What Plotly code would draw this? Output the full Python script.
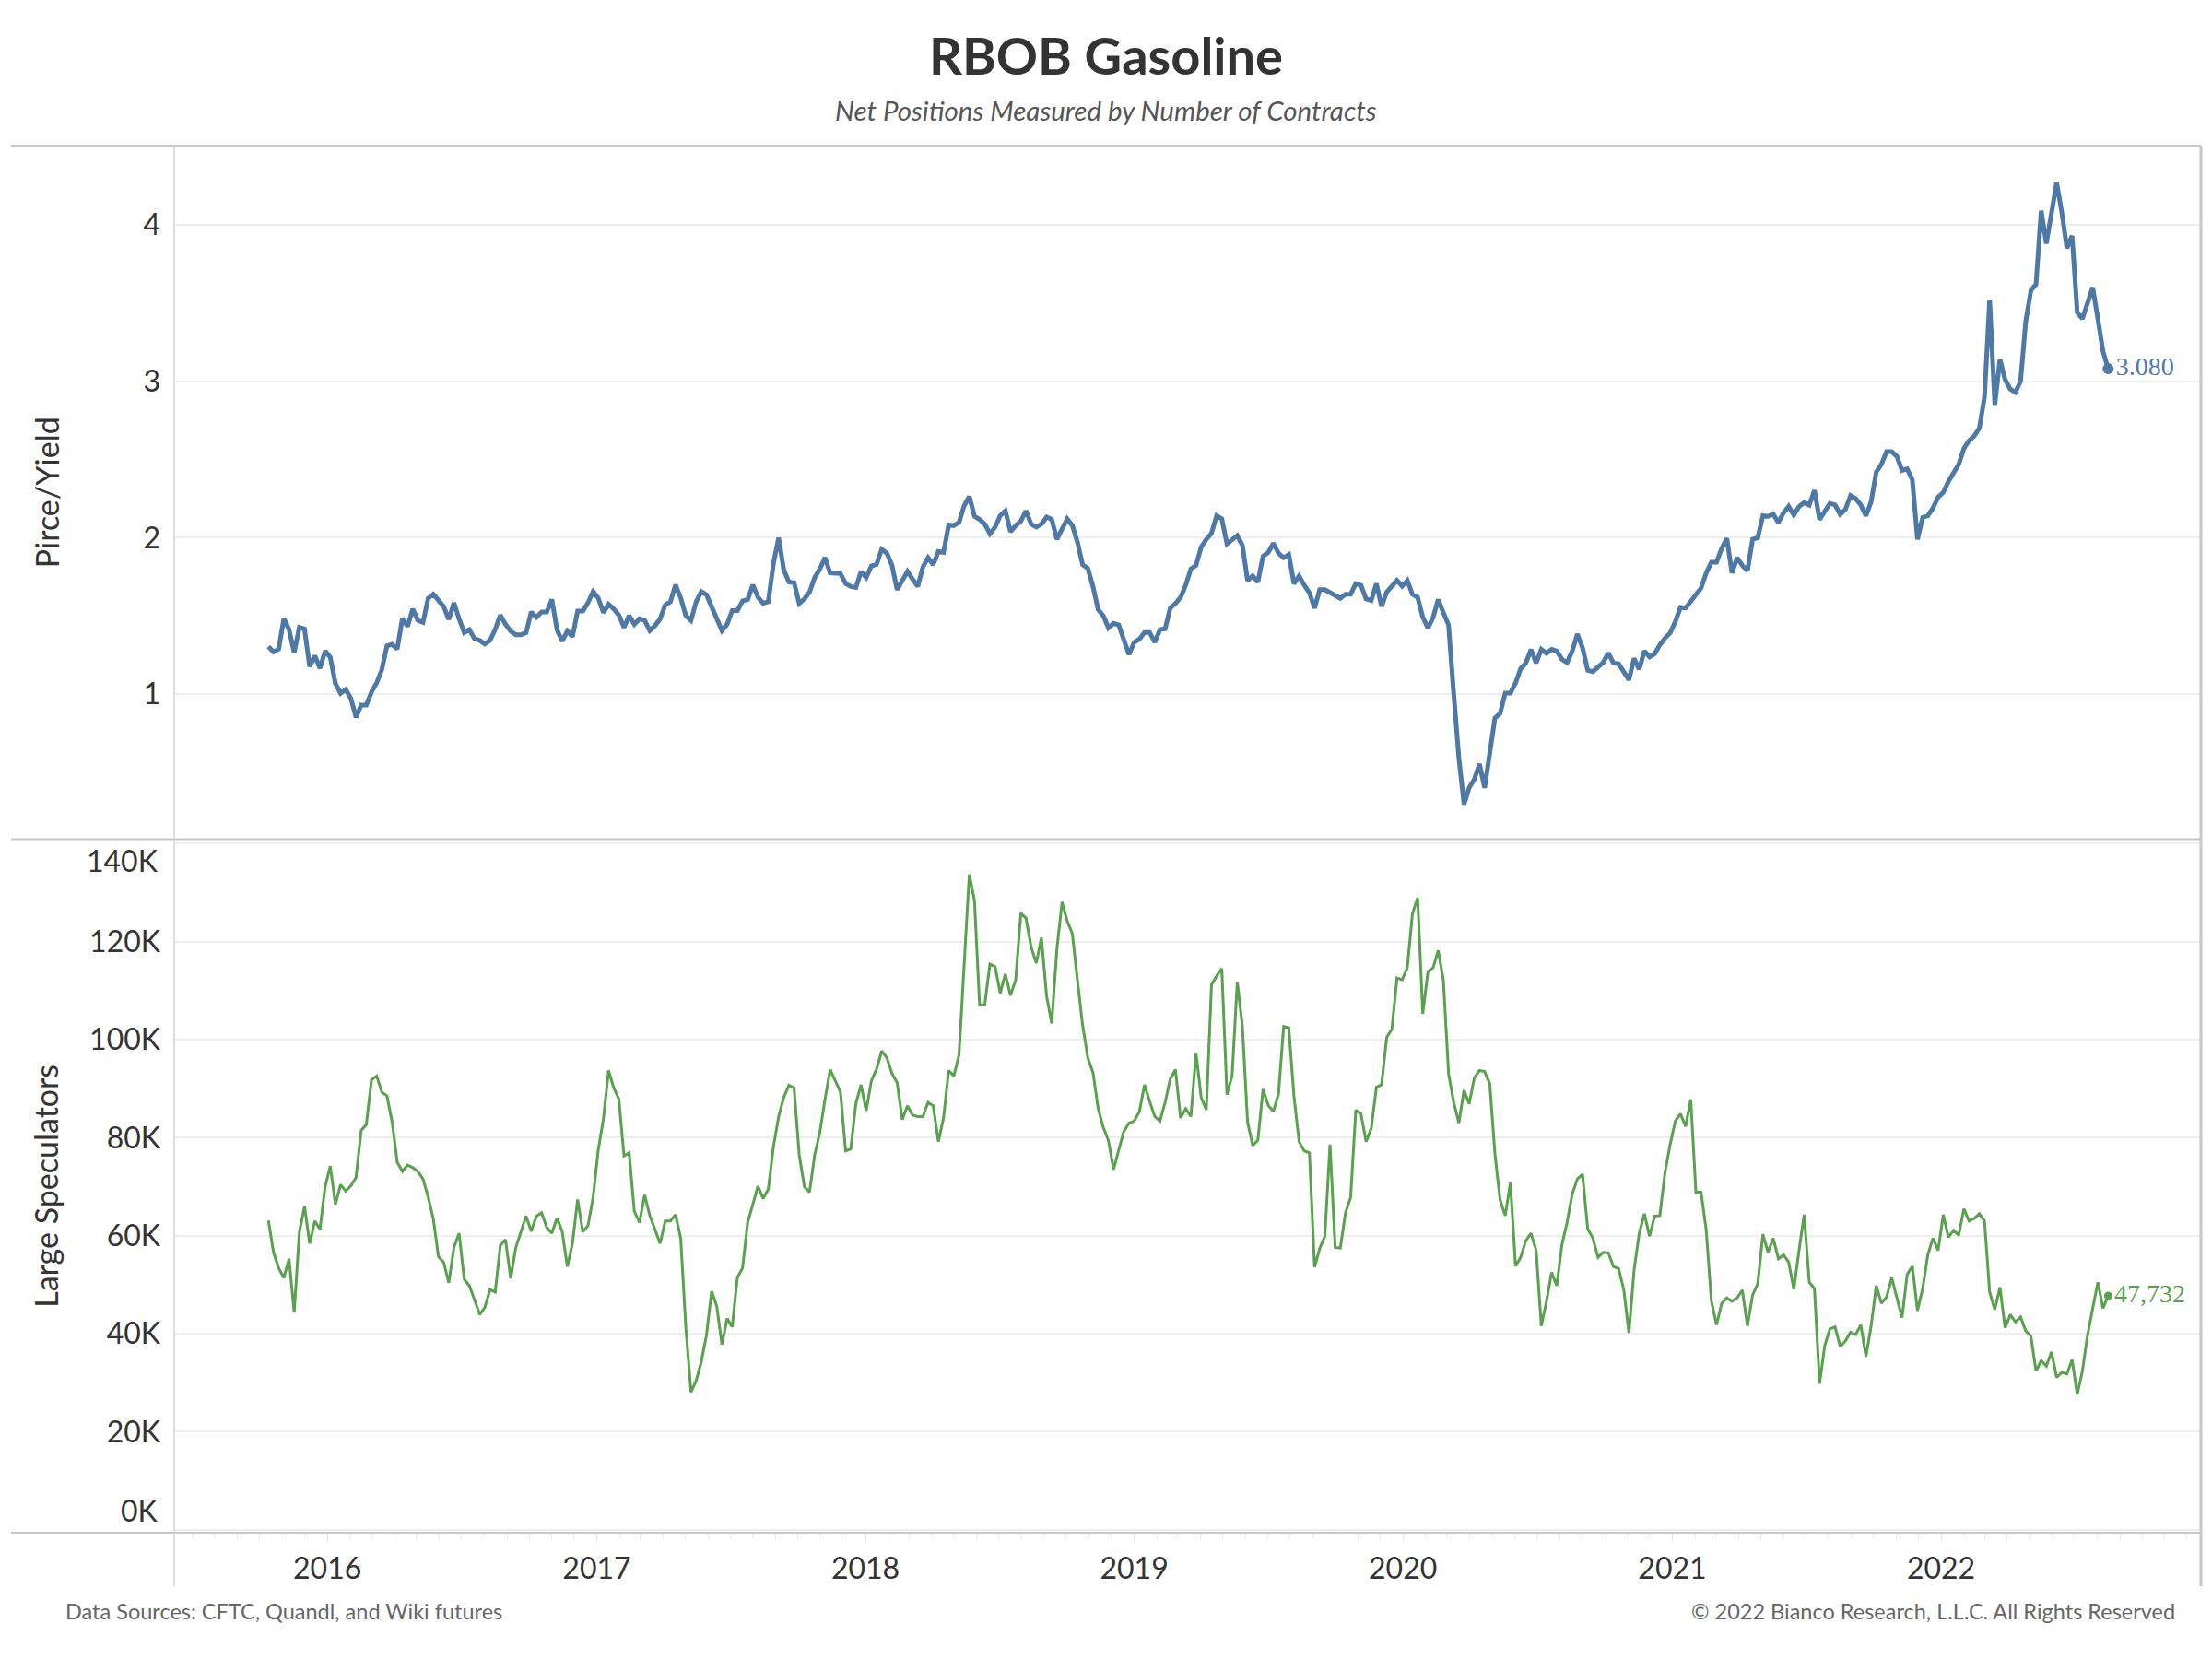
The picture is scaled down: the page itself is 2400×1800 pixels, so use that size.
import pandas as pd
import plotly.graph_objects as go

# ---------------- data ----------------
start_date = "2015-10-13"   # first weekly observation (Tuesdays)

price = [
    1.305, 1.270, 1.289, 1.486, 1.413, 1.266, 1.427, 1.417, 1.177, 1.246,
    1.167, 1.276, 1.236, 1.069, 1.006, 1.030, 0.974, 0.852, 0.931, 0.931,
    1.014, 1.073, 1.157, 1.309, 1.319, 1.289, 1.486, 1.433, 1.545, 1.472,
    1.459, 1.614, 1.640, 1.600, 1.561, 1.478, 1.585, 1.482, 1.394, 1.413,
    1.354, 1.344, 1.321, 1.344, 1.413, 1.506, 1.447, 1.404, 1.380, 1.380,
    1.394, 1.526, 1.492, 1.526, 1.526, 1.606, 1.413, 1.339, 1.404, 1.368,
    1.531, 1.531, 1.585, 1.656, 1.614, 1.522, 1.575, 1.545, 1.506, 1.427,
    1.502, 1.447, 1.482, 1.472, 1.407, 1.437, 1.482, 1.571, 1.591, 1.699,
    1.616, 1.502, 1.472, 1.591, 1.656, 1.636, 1.561, 1.486, 1.407, 1.447,
    1.535, 1.535, 1.596, 1.606, 1.699, 1.620, 1.581, 1.591, 1.837, 2.000,
    1.795, 1.717, 1.713, 1.580, 1.609, 1.652, 1.746, 1.801, 1.873, 1.775,
    1.775, 1.771, 1.707, 1.688, 1.682, 1.785, 1.746, 1.820, 1.830, 1.926,
    1.902, 1.824, 1.668, 1.727, 1.785, 1.736, 1.688, 1.814, 1.873, 1.828,
    1.912, 1.906, 2.082, 2.078, 2.098, 2.205, 2.264, 2.137, 2.117, 2.088,
    2.025, 2.068, 2.141, 2.172, 2.039, 2.078, 2.107, 2.172, 2.088, 2.068,
    2.088, 2.133, 2.117, 1.990, 2.055, 2.121, 2.078, 1.971, 1.828, 1.805,
    1.688, 1.541, 1.502, 1.424, 1.453, 1.443, 1.346, 1.254, 1.332, 1.352,
    1.395, 1.395, 1.332, 1.414, 1.418, 1.551, 1.580, 1.619, 1.697, 1.801,
    1.824, 1.941, 1.990, 2.029, 2.141, 2.121, 1.961, 1.990, 2.014, 1.951,
    1.727, 1.756, 1.717, 1.883, 1.906, 1.965, 1.902, 1.873, 1.893, 1.707,
    1.756, 1.697, 1.648, 1.551, 1.668, 1.668, 1.648, 1.625, 1.613, 1.639,
    1.639, 1.707, 1.697, 1.609, 1.600, 1.707, 1.561, 1.654, 1.688, 1.727,
    1.691, 1.727, 1.639, 1.619, 1.492, 1.424, 1.492, 1.605, 1.521, 1.443,
    1.004, 0.594, 0.297, 0.402, 0.457, 0.555, 0.402, 0.604, 0.848, 0.877,
    1.008, 1.008, 1.072, 1.164, 1.199, 1.287, 1.199, 1.287, 1.262, 1.287,
    1.277, 1.223, 1.203, 1.277, 1.385, 1.297, 1.154, 1.145, 1.174, 1.203,
    1.264, 1.199, 1.195, 1.145, 1.092, 1.229, 1.160, 1.277, 1.238, 1.258,
    1.316, 1.359, 1.391, 1.463, 1.555, 1.551, 1.590, 1.629, 1.678, 1.775,
    1.844, 1.844, 1.932, 1.996, 1.775, 1.873, 1.824, 1.789, 1.990, 2.000,
    2.141, 2.137, 2.152, 2.098, 2.160, 2.201, 2.146, 2.199, 2.225, 2.209,
    2.303, 2.117, 2.170, 2.220, 2.210, 2.150, 2.180, 2.270, 2.250, 2.210,
    2.140, 2.230, 2.420, 2.470, 2.550, 2.550, 2.520, 2.430, 2.440, 2.370,
    1.990, 2.130, 2.140, 2.190, 2.260, 2.290, 2.360, 2.420, 2.470, 2.570,
    2.620, 2.650, 2.700, 2.900, 3.520, 2.850, 3.140, 3.010, 2.950, 2.930,
    3.000, 3.380, 3.580, 3.620, 4.090, 3.880, 4.070, 4.270, 4.080, 3.850,
    3.930, 3.440, 3.400, 3.490, 3.600, 3.400, 3.190, 3.080,
]

spec_k = [
    63.1, 56.5, 53.4, 51.4, 55.3, 44.3, 60.7, 66.0, 58.4, 63.0,
    61.3, 70.0, 74.2, 66.4, 70.4, 69.1, 70.2, 71.9, 81.5, 82.7,
    91.8, 92.6, 89.3, 88.5, 83.2, 75.0, 73.1, 74.4, 73.9, 73.1,
    71.6, 67.9, 63.4, 55.7, 54.6, 50.4, 57.6, 60.5, 51.1, 49.8,
    46.9, 43.9, 45.4, 49.0, 48.5, 58.0, 59.2, 51.3, 57.6, 60.7,
    64.0, 60.9, 64.0, 64.7, 61.7, 60.5, 63.6, 60.9, 53.7, 58.4,
    67.4, 60.8, 62.0, 67.8, 77.5, 83.8, 93.7, 90.2, 87.9, 76.3,
    76.9, 65.0, 62.7, 68.3, 64.1, 61.3, 58.4, 63.0, 63.0, 64.3,
    59.5, 41.2, 28.1, 30.4, 34.3, 39.7, 48.7, 45.6, 37.8, 43.1,
    41.4, 51.5, 53.4, 62.7, 66.6, 70.1, 67.6, 69.5, 78.2, 84.3,
    88.2, 90.7, 90.1, 76.5, 70.0, 68.9, 76.5, 81.1, 87.8, 93.9,
    91.6, 89.3, 77.3, 77.7, 87.0, 90.8, 85.5, 91.6, 94.0, 97.7,
    96.3, 93.1, 91.2, 83.7, 86.5, 84.6, 84.3, 84.3, 87.2, 86.5,
    79.2, 84.0, 93.7, 92.6, 96.8, 115.4, 133.7, 128.4, 107.1, 107.1,
    115.4, 114.9, 109.5, 113.4, 109.0, 112.2, 125.8, 124.8, 118.9, 115.6,
    120.8, 108.9, 103.3, 118.5, 128.1, 124.2, 121.6, 112.0, 102.9, 96.3,
    93.3, 86.0, 82.1, 79.4, 73.5, 77.5, 81.3, 83.0, 83.4, 85.3,
    90.8, 87.4, 84.3, 83.4, 87.2, 92.0, 93.9, 84.0, 85.9, 84.3,
    97.2, 88.2, 85.7, 111.2, 113.0, 114.5, 88.8, 92.7, 111.8, 102.7,
    83.2, 78.4, 79.5, 89.9, 86.6, 85.3, 88.9, 102.7, 102.4, 88.5,
    79.2, 77.3, 76.9, 53.6, 57.4, 59.9, 78.6, 57.6, 57.5, 64.7,
    67.8, 85.6, 84.9, 79.2, 81.9, 90.3, 90.8, 100.5, 102.1, 112.6,
    112.2, 114.7, 125.7, 128.9, 105.3, 113.9, 114.7, 118.2, 112.1, 93.1,
    87.2, 83.0, 89.7, 86.9, 92.2, 93.7, 93.5, 91.0, 76.7, 67.3,
    64.1, 70.8, 53.8, 55.6, 59.0, 60.5, 57.0, 41.6, 46.6, 52.5,
    49.8, 58.2, 62.7, 68.5, 71.6, 72.5, 61.4, 59.5, 55.6, 56.6,
    56.5, 53.7, 53.3, 49.0, 40.2, 53.0, 60.5, 64.5, 59.9, 64.0,
    64.1, 72.9, 78.6, 83.4, 84.9, 82.3, 87.8, 68.9, 68.9, 61.1,
    46.7, 41.8, 46.2, 47.3, 46.6, 47.3, 48.9, 41.6, 47.9, 50.2,
    60.3, 56.6, 59.5, 55.3, 56.1, 54.6, 49.1, 56.9, 64.3, 50.5,
    49.2, 29.8, 37.6, 41.0, 41.4, 37.4, 38.5, 40.3, 39.8, 41.8,
    35.3, 41.6, 49.8, 46.2, 47.5, 51.4, 47.6, 43.3, 52.1, 53.8,
    44.7, 49.2, 56.1, 59.5, 57.0, 64.3, 59.7, 61.1, 60.1, 65.5,
    63.0, 63.5, 64.5, 63.0, 48.5, 44.9, 49.5, 41.2, 43.9, 42.4,
    43.4, 40.6, 39.5, 32.4, 34.5, 33.4, 36.3, 31.1, 32.1, 31.8,
    34.7, 27.6, 32.4, 39.7, 45.2, 50.5, 45.2, 47.732,
]

price_ticks = [1, 2, 3, 4]
spec_ticks = [0, 20000, 40000, 60000, 80000, 100000, 120000, 140000]
spec_tick_text = ["", "20K", "40K", "60K", "80K", "100K", "120K", ""]
x_range = ["2015-06-07", "2022-12-20"]

title_text = "RBOB Gasoline"
subtitle_text = "Net Positions Measured by Number of Contracts"
source_text = "Data Sources: CFTC, Quandl, and Wiki futures"
copyright_text = "© 2022 Bianco Research, L.L.C. All Rights Reserved"

# ---------------- derived ----------------
spec = [round(v * 1000) for v in spec_k]
dates = pd.date_range(start_date, periods=len(price), freq="7D")

BLUE = "#4e79a7"
GREEN = "#59a14f"
SANS = "Lato, 'Open Sans', sans-serif"
SERIF = "'Liberation Serif', 'DejaVu Serif', serif"
TXT = "#333333"
BORDER = "#c8c8c8"
GRID = "#eeeeee"

W, H = 2400, 1800
L, R, T, B = 189, 12, 158, 137
PW, PH = W - L - R, H - T - B


def px_x(px):
    return (px - L) / PW


def px_y(py):
    return (H - B - py) / PH


fig = go.Figure()

fig.add_trace(go.Scatter(
    x=dates, y=price, mode="lines", xaxis="x", yaxis="y",
    line=dict(color=BLUE, width=5), hoverinfo="skip", showlegend=False,
))
fig.add_trace(go.Scatter(
    x=[dates[-1]], y=[price[-1]], mode="markers+text", xaxis="x", yaxis="y",
    marker=dict(color=BLUE, size=12), text=[f"{price[-1]:.3f}"],
    textposition="middle right", textfont=dict(family=SERIF, size=28, color=BLUE),
    hoverinfo="skip", showlegend=False, cliponaxis=False,
))
fig.add_trace(go.Scatter(
    x=dates, y=spec, mode="lines", xaxis="x", yaxis="y2",
    line=dict(color=GREEN, width=3), hoverinfo="skip", showlegend=False,
))
fig.add_trace(go.Scatter(
    x=[dates[-1]], y=[spec[-1]], mode="markers+text", xaxis="x", yaxis="y2",
    marker=dict(color=GREEN, size=9), text=[f"{spec[-1]:,.0f}"],
    textposition="middle right", textfont=dict(family=SERIF, size=28, color=GREEN),
    hoverinfo="skip", showlegend=False, cliponaxis=False,
))

axis_font = dict(family=SANS, size=32, color=TXT)

fig.update_layout(
    width=W, height=H, autosize=False,
    margin=dict(l=L, r=R, t=T, b=B),
    paper_bgcolor="white", plot_bgcolor="white",
    font=dict(family=SANS, color=TXT),
    title=dict(text=f"<b>{title_text}</b>", x=0.5, xref="container", xanchor="center",
               y=1 - 61 / H, yref="container", yanchor="middle",
               font=dict(family=SANS, size=56, color="#333333")),
    xaxis=dict(
        anchor="y2", domain=[0, 1], type="date", range=x_range,
        showgrid=False, zeroline=False, showline=False,
        tick0="2016-01-01", dtick="M12", tickformat="%Y",
        ticks="outside", ticklen=9, tickwidth=1, tickcolor="#e6e6e6",
        minor=dict(dtick="M1", ticks="outside", ticklen=6, tickcolor="#eeeeee", showgrid=False),
        tickfont=axis_font, ticklabelstandoff=2,
    ),
    yaxis=dict(
        anchor="x", domain=[0.5, 1], range=[0.074, 4.506],
        tickvals=price_ticks, ticktext=[str(v) for v in price_ticks],
        showgrid=True, gridcolor=GRID, gridwidth=1.5,
        zeroline=False, showline=False, ticks="",
        tickfont=axis_font, ticklabelstandoff=14,
    ),
    yaxis2=dict(
        anchor="x", domain=[0, 0.5], range=[-600, 140900],
        tickvals=spec_ticks, ticktext=spec_tick_text,
        showgrid=True, gridcolor=GRID, gridwidth=1.5,
        zeroline=False, showline=False, ticks="",
        tickfont=axis_font, ticklabelstandoff=14,
    ),
)

# panel frame (Tableau-style dividers)
frame = [
    (px_x(12), 1.0, 1.0, 1.0, 2),
    (px_x(12), 0.5, 1.0, 0.5, 2),
    (px_x(12), 0.0, 1.0, 0.0, 2),
]
for x0, y0, x1, y1, w in frame:
    fig.add_shape(type="line", xref="paper", yref="paper", x0=x0, y0=y0, x1=x1, y1=y1,
                  line=dict(color=BORDER, width=w), layer="above")
fig.add_shape(type="line", xref="paper", yref="paper", x0=0, x1=0, y0=1.0, y1=px_y(1721),
              line=dict(color="#d4d4d4", width=1.5), layer="above")
fig.add_shape(type="line", xref="paper", yref="paper", x0=1, x1=1, y0=1.0, y1=px_y(1721),
              line=dict(color=BORDER, width=3), layer="above")

ann = []
ann.append(dict(text=f"<i>{subtitle_text}</i>", xref="paper", yref="paper",
                x=px_x(1200), y=px_y(119), xanchor="center", yanchor="middle",
                showarrow=False, font=dict(family=SANS, size=29.5, color="#555555")))
ann.append(dict(text="Pirce/Yield", xref="paper", yref="paper", x=px_x(50), y=0.75,
                xanchor="center", yanchor="middle", textangle=-90, showarrow=False,
                font=dict(family=SANS, size=34, color=TXT)))
ann.append(dict(text="Large Speculators", xref="paper", yref="paper", x=px_x(50), y=0.25,
                xanchor="center", yanchor="middle", textangle=-90, showarrow=False,
                font=dict(family=SANS, size=34, color=TXT)))
# edge tick labels kept inside the pane, as in the reference
ann.append(dict(text="0K", xref="paper", yref="y2", x=px_x(174), y=spec_ticks[0],
                xanchor="right", yanchor="middle", yshift=21, showarrow=False, font=axis_font))
ann.append(dict(text="140K", xref="paper", yref="y2", x=px_x(174), y=spec_ticks[-1],
                xanchor="right", yanchor="middle", yshift=-18, showarrow=False, font=axis_font))
ann.append(dict(text=source_text, xref="paper", yref="paper", x=px_x(69), y=px_y(1748),
                xanchor="left", yanchor="middle", showarrow=False,
                font=dict(family=SANS, size=23.5, color="#666666")))
ann.append(dict(text=copyright_text, xref="paper", yref="paper", x=px_x(2362), y=px_y(1748),
                xanchor="right", yanchor="middle", showarrow=False,
                font=dict(family=SANS, size=23.5, color="#666666")))
fig.update_layout(annotations=ann)

fig.write_html("out.html", config={"displayModeBar": False},
               post_script="document.body.style.margin='0';")
